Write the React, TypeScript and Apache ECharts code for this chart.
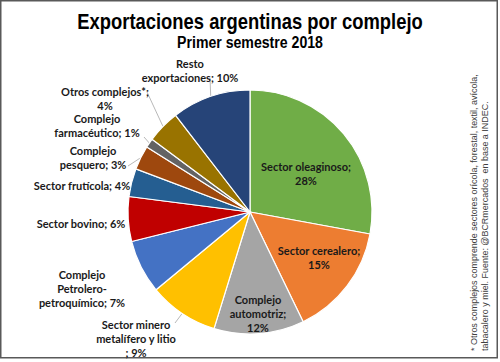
import React, { useEffect, useRef } from "react";
import * as echarts from "echarts";

const TITLE = "Exportaciones argentinas por complejo";
const SUBTITLE = "Primer semestre 2018";
const NOTE_1 = "* Otros complejos comprende sectores orícola, forestal, textil, avícola,";
const NOTE_2 = "tabacalero y miel. Fuente: @BCRmercados  en base a INDEC.";

const categories = [
  "Sector oleaginoso",
  "Sector cerealero",
  "Complejo automotriz",
  "Sector minero metalífero y litio",
  "Complejo Petrolero-petroquímico",
  "Sector bovino",
  "Sector frutícola",
  "Complejo pesquero",
  "Complejo farmacéutico",
  "Otros complejos*",
  "Resto exportaciones",
];
const labelTemplates = [
  "Sector oleaginoso;\n{v}%",
  "Sector cerealero;\n{v}%",
  "Complejo\nautomotriz;\n{v}%",
  "Sector minero\nmetalífero y litio\n; {v}%",
  "Complejo\nPetrolero-\npetroquímico; {v}%",
  "Sector bovino; {v}%",
  "Sector frutícola; {v}%",
  "Complejo\npesquero; {v}%",
  "Complejo\nfarmacéutico; {v}%",
  "Otros complejos*;\n{v}%",
  "Resto\nexportaciones; {v}%",
];
const shares = [27.8, 14.9, 11.9, 9.2, 7.1, 5.9, 3.7, 3.2, 1.2, 4.4, 10.4];
const colors = [
  "#70AD47", "#ED7D31", "#A5A5A5", "#FFC000", "#4472C4", "#C00000",
  "#255E91", "#9E480E", "#636363", "#997300", "#264478",
];
const insideLabel = [true, true, true, false, false, false, false, false, false, false, false];

// label placement (layout, not data)
const labelPos: [number, number][] = [
  [306, 173], [319, 257], [258, 313], [136, 338], [82, 288], [81, 223],
  [82, 185], [93, 157], [97, 125], [105, 98], [190, 70],
];
const lineEnd: ([number, number] | null)[] = [
  null, null, null, [175, 323], null, null, null, [128, 166], [144, 137], [147, 92], [210, 78],
];

function fitScale(text: string, font: string, target: number): number {
  const c = document.createElement("canvas").getContext("2d");
  if (!c) return 1;
  c.font = font;
  const w = c.measureText(text).width;
  return w > 0 ? target / w : 1;
}

export default function App() {
  const ref = useRef<HTMLDivElement>(null);
  useEffect(() => {
    if (!ref.current) return;
    const chart = echarts.init(ref.current, null, { renderer: "svg" });
    const titleFont = 'bold 22px "Liberation Sans"';
    const subFont = 'bold 17px "Liberation Sans"';
    const noteFont = '9px "Liberation Sans"';
    const sTitle = fitScale(TITLE, titleFont, 346);
    const sSub = fitScale(SUBTITLE, subFont, 146);
    const sNote = fitScale(NOTE_1, noteFont, 277);

    chart.setOption({
      animation: false,
      backgroundColor: "#ffffff",
      graphic: [
        {
          type: "rect",
          shape: { x: 0.75, y: 0.75, width: 496.5, height: 357 },
          style: { fill: "none", stroke: "#595959", lineWidth: 1.5 },
          silent: true,
        },
        {
          type: "text",
          x: 250,
          y: 21,
          scaleX: sTitle,
          style: {
            text: TITLE,
            font: titleFont,
            fill: "#000000",
            textAlign: "center",
            textVerticalAlign: "middle",
          },
        },
        {
          type: "text",
          x: 250,
          y: 42,
          scaleX: sSub,
          style: {
            text: SUBTITLE,
            font: subFont,
            fill: "#000000",
            textAlign: "center",
            textVerticalAlign: "middle",
          },
        },
        {
          type: "text",
          x: 474,
          y: 351,
          rotation: Math.PI / 2,
          scaleX: sNote,
          style: {
            text: NOTE_1,
            font: noteFont,
            fill: "#404040",
            textAlign: "left",
            textVerticalAlign: "middle",
          },
        },
        {
          type: "text",
          x: 485,
          y: 351,
          rotation: Math.PI / 2,
          scaleX: sNote,
          style: {
            text: NOTE_2,
            font: noteFont,
            fill: "#404040",
            textAlign: "left",
            textVerticalAlign: "middle",
          },
        },
      ],
      series: [
        {
          type: "pie",
          center: [250, 212],
          radius: 122,
          startAngle: 90,
          clockwise: true,
          avoidLabelOverlap: false,
          itemStyle: { borderColor: "#ffffff", borderWidth: 1.2 },
          label: {
            fontFamily: "Lato",
            fontWeight: "bold",
            fontSize: 11,
            lineHeight: 14,
            color: "#1a1a1a",
            align: "center",
            formatter: (p: any) =>
              labelTemplates[p.dataIndex].replace("{v}", String(Math.round(p.value))),
          },
          labelLine: {
            show: true,
            length: 8,
            length2: 4,
            lineStyle: { color: "#a6a6a6", width: 0.8 },
          },
          labelLayout: (params: any) => {
            const i = params.dataIndex;
            const [x, y] = labelPos[i];
            const out: any = { x, y, align: "center", verticalAlign: "middle" };
            const pts = params.labelLinePoints;
            if (pts && lineEnd[i]) {
              out.labelLinePoints = [pts[0], lineEnd[i], lineEnd[i]];
            }
            return out;
          },
          data: categories.map((name, i) => ({
            name,
            value: shares[i],
            itemStyle: { color: colors[i] },
            label: { position: insideLabel[i] ? "inside" : "outside" },
            labelLine: { show: !insideLabel[i] && lineEnd[i] !== null },
          })),
        },
      ],
    });
    return () => chart.dispose();
  }, []);
  return (
    <div
      ref={ref}
      style={{ position: "fixed", left: 0, top: 0, width: 500, height: 362, background: "#fff" }}
    />
  );
}
